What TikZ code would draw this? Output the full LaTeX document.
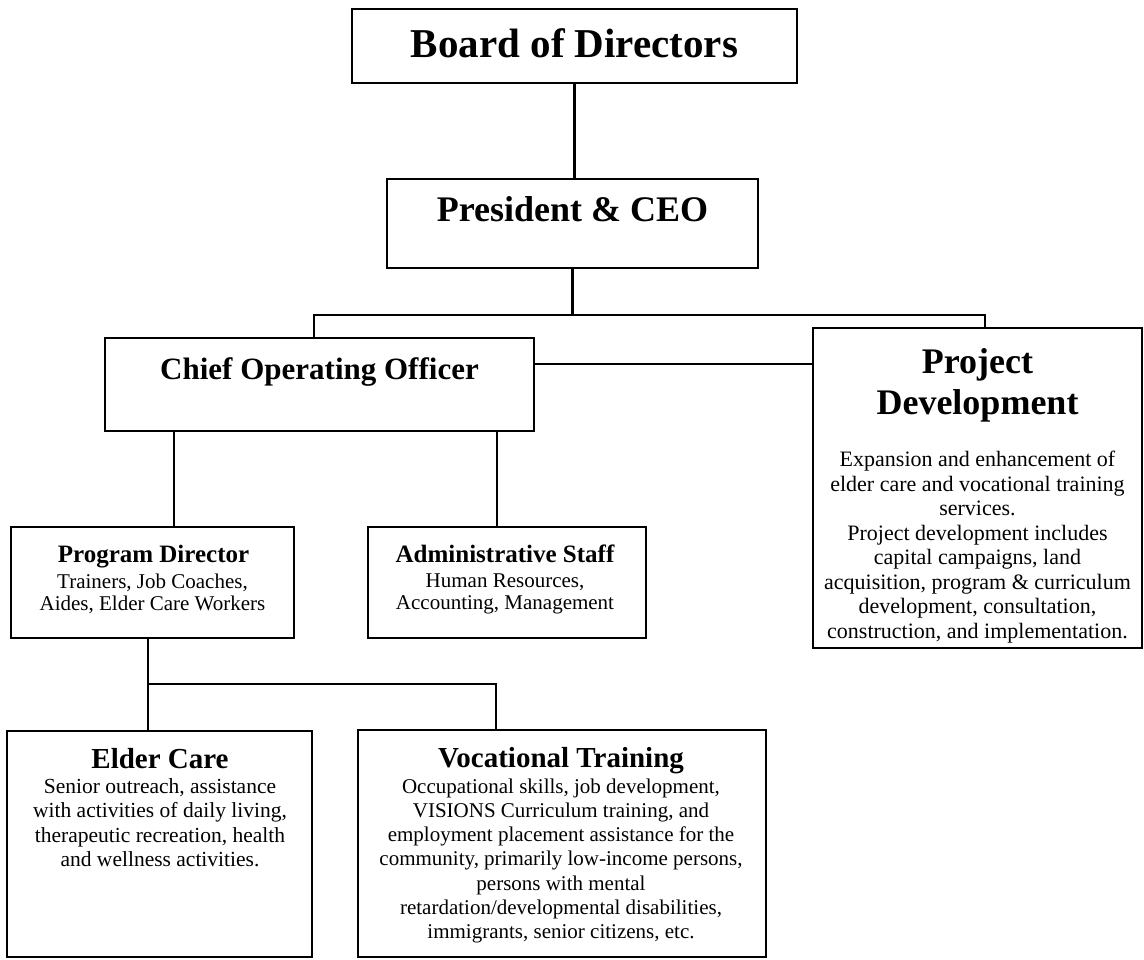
\documentclass[tikz,border=0pt]{standalone}
\usepackage{fontspec}
\setmainfont{Liberation Serif}
\begin{document}
\begin{tikzpicture}[x=1pt,y=-1pt,
  box/.style={draw=black,line width=2.6pt,fill=white,inner sep=0pt,outer sep=0pt},
  conn/.style={draw=black,line width=2.1pt},
  ttl/.style={inner sep=0pt,anchor=base,align=center},
  body/.style={inner sep=0pt,anchor=north,align=center}]
\useasboundingbox[fill=white] (0,0) rectangle (1144,960);

% boxes
\node[box,minimum width=445pt,minimum height=74pt] (board) at (574.5,46) {};
\node[box,minimum width=371pt,minimum height=89pt] (pres) at (572.5,223.5) {};
\node[box,minimum width=429pt,minimum height=93pt] (coo) at (319.5,384.5) {};
\node[box,minimum width=329pt,minimum height=320pt] (proj) at (977.5,488) {};
\node[box,minimum width=283pt,minimum height=111pt] (pd) at (152.5,582.5) {};
\node[box,minimum width=278pt,minimum height=111pt] (adm) at (507,582.5) {};
\node[box,minimum width=305pt,minimum height=226pt] (elder) at (159.5,844) {};
\node[box,minimum width=408pt,minimum height=227pt] (voc) at (562,843.5) {};

% helper coordinates for connector positions
\coordinate (busL) at (314,315);
\coordinate (busR) at (985,315);
\coordinate (xPD) at (174,0);
\coordinate (xAD) at (497,0);
\coordinate (xEl) at (148,0);
\coordinate (junc) at (148,684);
\coordinate (xVo) at (496,0);

% connectors
\draw[conn] (board.south) -- (board.south |- pres.north);
\draw[conn] (pres.south) -- (pres.south |- busL);
\draw[conn] (coo.north -| busL) -- (busL) -- (busR) -- (proj.north -| busR);
\draw[conn] ([yshift=20.5pt]coo.east) -- ([yshift=20.5pt]coo.east -| proj.west);
\draw[conn] (coo.south -| xPD) -- (pd.north -| xPD);
\draw[conn] (coo.south -| xAD) -- (adm.north -| xAD);
\draw[conn] (pd.south -| xEl) -- (elder.north -| xEl);
\draw[conn] (junc) -| (voc.north -| xVo);

% texts
\node[ttl,font={\fontsize{41}{46}\selectfont\bfseries}] (board-t) at (574.5,58) {Board of Directors};
\node[ttl,font={\fontsize{36}{41}\selectfont\bfseries}] (pres-t) at (572.5,222) {President \& CEO};
\node[ttl,font={\fontsize{31}{36}\selectfont\bfseries}] (coo-t) at (319.5,379) {Chief Operating Officer};

\node[body,font={\fontsize{36}{41}\selectfont\bfseries}] (proj-t) at (977.5,348) {Project\\Development};
\node[body,font={\fontsize{22}{24.5}\selectfont}] (proj-b) at (977.5,451) {Expansion and enhancement of\\elder care and vocational training\\services.\\Project development includes\\capital campaigns, land\\acquisition, program \& curriculum\\development, consultation,\\construction, and implementation.};

\node[ttl,font={\fontsize{25}{29}\selectfont\bfseries}] (pd-t) at (153.5,562) {Program Director};
\node[body,font={\fontsize{21}{22}\selectfont}] (pd-b) at (152.5,574) {Trainers, Job Coaches,\\Aides, Elder Care Workers};

\node[ttl,font={\fontsize{25}{29}\selectfont\bfseries}] (adm-t) at (505,562) {Administrative Staff};
\node[body,font={\fontsize{21}{22}\selectfont}] (adm-b) at (505,574) {Human Resources,\\Accounting, Management};

\node[ttl,font={\fontsize{29}{33}\selectfont\bfseries}] (elder-t) at (160,768) {Elder Care};
\node[body,font={\fontsize{21.5}{24.3}\selectfont}] (elder-b) at (160,778.5) {Senior outreach, assistance\\with activities of daily living,\\therapeutic recreation, health\\and wellness activities.};

\node[ttl,font={\fontsize{29}{33}\selectfont\bfseries}] (voc-t) at (561,767) {Vocational Training};
\node[body,font={\fontsize{21}{24.2}\selectfont}] (voc-b) at (561,778.5) {Occupational skills, job development,\\VISIONS Curriculum training, and\\employment placement assistance for the\\community, primarily low-income persons,\\persons with mental\\retardation/developmental disabilities,\\immigrants, senior citizens, etc.};
\end{tikzpicture}
\end{document}
